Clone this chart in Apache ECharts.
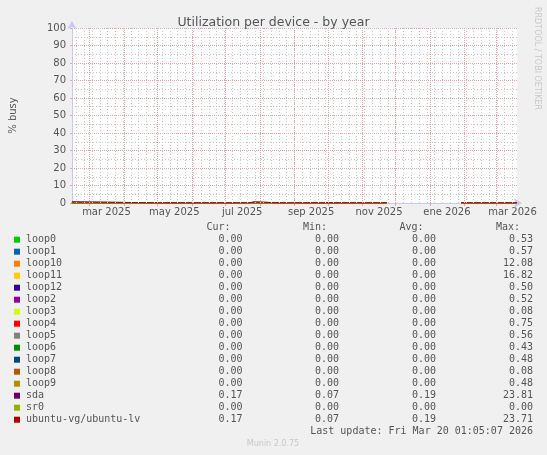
<!DOCTYPE html>
<html>
<head>
<meta charset="utf-8">
<script src="https://cdn.jsdelivr.net/npm/echarts@6/dist/echarts.min.js"></script>
<style>
html,body{margin:0;padding:0;background:#f0f0f0;}
#chart{width:547px;height:455px;}
</style>
</head>
<body>
<div id="chart"></div>
<script>
// ---- data ----
const titleText = 'Utilization per device - by year';
const timeMin = '2025-02-13 01:05:07';
const timeMax = '2026-03-20 01:05:07';
const monthStarts = ['2025-03-01','2025-04-01','2025-05-01','2025-06-01','2025-07-01','2025-08-01','2025-09-01','2025-10-01','2025-11-01','2025-12-01','2026-01-01','2026-02-01','2026-03-01'];
const labelDates = ['2025-03-16','2025-05-16','2025-07-16','2025-09-16','2025-11-16','2026-01-16','2026-03-16'];
const tickLabels = ['mar 2025','may 2025','jul 2025','sep 2025','nov 2025','ene 2026','mar 2026'];
const firstMonday = '2025-02-17';

const seriesNames = ['loop0','loop1','loop10','loop11','loop12','loop2','loop3','loop4','loop5','loop6','loop7','loop8','loop9','sda','sr0','ubuntu-vg/ubuntu-lv'];
const seriesColors = ['#00cc00','#0066b3','#ff8000','#ffcc00','#330099','#990099','#ccff00','#ff0000','#808080','#008f00','#00487d','#b35a00','#b38f00','#6b006b','#8fb300','#b30000'];
const curVals = [0,0,0,0,0,0,0,0,0,0,0,0,0,0.17,0,0.17];
const minVals = [0,0,0,0,0,0,0,0,0,0,0,0,0,0.07,0,0.07];
const avgVals = [0,0,0,0,0,0,0,0,0,0,0,0,0,0.19,0,0.19];
const maxVals = [0.53,0.57,12.08,16.82,0.50,0.52,0.08,0.75,0.56,0.43,0.48,0.08,0.48,23.81,0.00,23.71];

const zeroSeries = [['2025-02-13',0],['2025-11-23',0],['2025-11-24',null],['2026-01-28',null],['2026-01-29',0],['2026-03-20',0]];
const sdaSeries = [
  ['2025-02-13',0.6],['2025-02-16',0.6],['2025-02-17',0.1],
  ['2025-05-05',0.1],['2025-05-06',0.6],['2025-05-07',0.1],
  ['2025-05-29',0.1],['2025-05-30',0.6],['2025-05-31',0.1],
  ['2025-06-08',0.1],['2025-06-09',0.6],['2025-06-10',0.1],
  ['2025-07-01',0.1],['2025-07-02',0.6],['2025-07-03',0.1],
  ['2025-07-22',0.1],['2025-07-23',0.6],['2025-07-27',0.6],['2025-07-28',0.1],
  ['2025-08-19',0.1],['2025-08-20',0.6],['2025-08-21',0.1],
  ['2025-10-20',0.1],['2025-10-21',0.6],['2025-10-22',0.1],
  ['2025-10-30',0.1],['2025-10-31',0.6],['2025-11-01',0.1],
  ['2025-11-23',0.1],['2025-11-24',null],['2026-01-28',null],['2026-01-29',0.1],['2026-03-20',0.1]
];
const ubuntuSeries = [
  ['2025-02-13',0.6],['2025-02-16',0.6],['2025-02-17',0.1],
  ['2025-05-05',0.1],['2025-05-06',0.6],['2025-05-07',0.1],
  ['2025-05-29',0.1],['2025-05-30',0.6],['2025-05-31',0.1],
  ['2025-06-08',0.1],['2025-06-09',0.6],['2025-06-10',0.1],
  ['2025-07-01',0.1],['2025-07-02',0.6],['2025-07-03',0.1],
  ['2025-07-22',0.1],['2025-07-23',0.6],['2025-07-27',0.6],['2025-07-28',0.1],
  ['2025-08-19',0.1],['2025-08-20',0.6],['2025-08-21',0.1],
  ['2025-10-20',0.1],['2025-10-21',0.6],['2025-10-22',0.1],
  ['2025-10-30',0.1],['2025-10-31',0.6],['2025-11-01',0.1],
  ['2025-11-23',0.1],['2025-11-24',null],['2026-01-28',null],['2026-01-29',0.1],['2026-03-20',0.1]
];
const lastUpdate = 'Last update: Fri Mar 20 01:05:07 2026';
const footer = 'Munin 2.0.75';
const watermark = 'RRDTOOL / TOBI OETIKER';

// ---- build ----
const t = s => +echarts.time.parse(s);
const seriesData = seriesNames.map(n => n === 'sda' ? sdaSeries : (n === 'ubuntu-vg/ubuntu-lv' ? ubuntuSeries : zeroSeries));
const labelTimes = labelDates.map(t);

const weekly = [];
for (let d = t(firstMonday); d < t(timeMax); d += 7 * 86400000) weekly.push(d);

const MONO = '10px "DejaVu Sans Mono", monospace';
const TXT = '#555555';
const rowY0 = 239.7, rowH = 12;
const colRight = [242.5, 339, 436, 533];
const headRight = [230.5, 327, 423.5, 520];
const heads = ['Cur:', 'Min:', 'Avg:', 'Max:'];

function txt(text, x, y, align, font, fill, extra) {
  return Object.assign({
    type: 'text', x: x, y: y, silent: true,
    style: { text: text, font: font, fill: fill, align: align, textAlign: align, verticalAlign: 'middle', textVerticalAlign: 'middle' }
  }, extra || {});
}

const graphics = [];
heads.forEach((h, i) => graphics.push(txt(h, headRight[i], 227.3, 'right', MONO, TXT)));
seriesNames.forEach((n, i) => {
  const cy = rowY0 + i * rowH;
  graphics.push({ type: 'rect', silent: true, shape: { x: 14, y: cy - 3, width: 6, height: 6 }, style: { fill: seriesColors[i] } });
  graphics.push(txt(n, 26, cy, 'left', MONO, TXT));
  [curVals, minVals, avgVals, maxVals].forEach((arr, c) => {
    graphics.push(txt(arr[i].toFixed(2), colRight[c], cy, 'right', MONO, TXT));
  });
});
graphics.push(txt(lastUpdate, 533, 431.5, 'right', MONO, TXT));
graphics.push(txt(footer, 273, 444, 'center', '8px "DejaVu Sans", sans-serif', '#c8c8c8'));
graphics.push(txt(watermark, 537.5, 58.5, 'center', '8px "DejaVu Sans", sans-serif', '#c8c8c8', { rotation: -Math.PI / 2 }));

const series = seriesNames.map((n, i) => ({
  name: n, type: 'line', showSymbol: false, symbol: 'none', silent: true,
  connectNulls: false,
  data: seriesData[i].map(p => [t(p[0]), p[1]]),
  lineStyle: { width: 1, color: seriesColors[i] },
  itemStyle: { color: seriesColors[i] },
  z: 3
}));
// grid lines (drawn through the x axis scale)
series.unshift({
  type: 'line', data: [], silent: true, z: 1, showSymbol: false,
  markLine: {
    silent: true, symbol: ['none', 'none'], animation: false,
    label: { show: false },
    data: weekly.map(d => ({ xAxis: d, lineStyle: { color: '#c8c8c8', type: [1, 2], width: 1 } }))
      .concat(monthStarts.map(d => ({ xAxis: t(d), lineStyle: { color: '#f0a0a0', type: [1, 1], width: 1 } })))
  }
});

const chart = echarts.init(document.getElementById('chart'), null, { renderer: 'canvas' });
chart.setOption({
  animation: false,
  backgroundColor: '#f0f0f0',
  textStyle: { fontFamily: '"DejaVu Sans", sans-serif' },
  title: {
    text: titleText, left: 'center', top: 11,
    textStyle: { fontSize: 12.5, fontWeight: 'normal', color: '#555555', fontFamily: '"DejaVu Sans", sans-serif' }
  },
  grid: { left: 66, top: 28, width: 451, height: 175, show: true, backgroundColor: '#ffffff', borderWidth: 0 },
  xAxis: {
    type: 'value', min: t(timeMin), max: t(timeMax),
    axisLine: { show: true, lineStyle: { color: '#c8c8f0', width: 1 }, symbol: ['none', 'arrow'], symbolSize: [7, 8], symbolOffset: [0, 5] },
    axisTick: { show: true, customValues: monthStarts.map(t), length: 3, lineStyle: { color: '#f0a0a0' } },
    axisLabel: {
      customValues: labelTimes, margin: 4, color: '#555555', fontSize: 10,
      fontFamily: '"DejaVu Sans", sans-serif', showMinLabel: true, showMaxLabel: true,
      formatter: v => { const k = labelTimes.indexOf(v); return k >= 0 ? tickLabels[k] : ''; }
    },
    splitLine: { show: false }
  },
  yAxis: {
    type: 'value', min: 0, max: 100, interval: 10,
    name: '% busy', nameLocation: 'middle', nameGap: 54, nameRotate: 90,
    nameTextStyle: { color: '#555555', fontSize: 10, fontFamily: '"DejaVu Sans", sans-serif' },
    axisLine: { show: true, lineStyle: { color: '#c8c8f0', width: 1 }, symbol: ['none', 'arrow'], symbolSize: [7, 8], symbolOffset: [0, 7] },
    axisTick: { show: true, length: 2, lineStyle: { color: '#f0a0a0' } },
    axisLabel: { color: '#555555', fontSize: 10, margin: 6, fontFamily: '"DejaVu Sans", sans-serif' },
    splitLine: { show: true, lineStyle: { color: '#f0a0a0', type: [1, 1], width: 1 } },
    minorTick: { show: false, splitNumber: 2 },
    minorSplitLine: { show: true, lineStyle: { color: '#c8c8c8', type: [1, 2], width: 1 } }
  },
  series: series,
  graphic: graphics
});
</script>
</body>
</html>
